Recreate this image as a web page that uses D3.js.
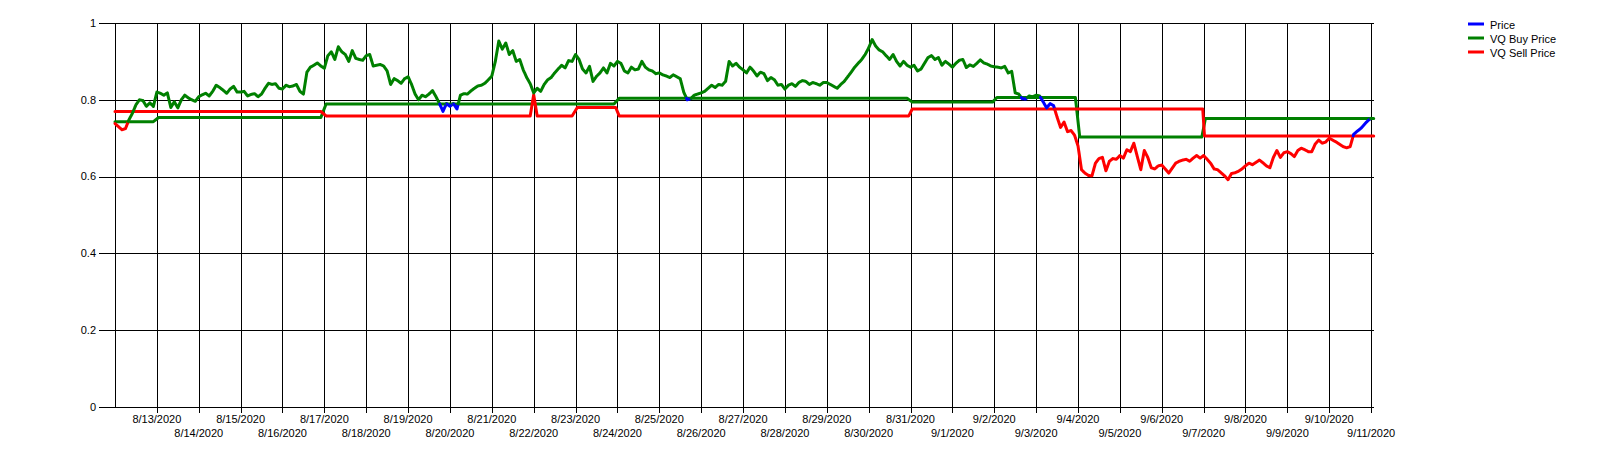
<!DOCTYPE html>
<html>
<head>
<meta charset="utf-8">
<script src="https://cdnjs.cloudflare.com/ajax/libs/d3/7.8.5/d3.min.js"></script>
<style>
  body { margin: 0; background: #fff; }
  svg text { font-family: "Liberation Sans", Arial, sans-serif; font-size: 11px; fill: #000; }
</style>
</head>
<body>
<div id="chart"></div>
<script>
// price.js
// Price with VQ buy / sell stop levels, one price point every 2 hours from 8/12/2020.

const priceStart = "2020-08-12T00:00";
const priceStepHours = 2;
const price = [
  0.738, 0.730, 0.722, 0.725, 0.748, 0.765, 0.787, 0.800, 0.798, 0.783, 0.792, 0.783,   // 8/12
  0.820, 0.817, 0.812, 0.818, 0.780, 0.795, 0.779, 0.800, 0.812, 0.805, 0.800, 0.796,   // 8/13
  0.808, 0.813, 0.817, 0.810, 0.822, 0.838, 0.832, 0.825, 0.817, 0.828, 0.835, 0.820,   // 8/14
  0.820, 0.822, 0.810, 0.814, 0.816, 0.808, 0.815, 0.830, 0.843, 0.840, 0.842, 0.830,   // 8/15
  0.828, 0.838, 0.834, 0.836, 0.840, 0.822, 0.815, 0.872, 0.885, 0.890, 0.896, 0.888,   // 8/16
  0.882, 0.915, 0.925, 0.905, 0.938, 0.925, 0.918, 0.900, 0.928, 0.908, 0.905, 0.903,   // 8/17
  0.915, 0.918, 0.888, 0.890, 0.892, 0.888, 0.875, 0.840, 0.855, 0.850, 0.843, 0.855,   // 8/18
  0.860, 0.840, 0.815, 0.800, 0.812, 0.808, 0.815, 0.824, 0.808, 0.790, 0.770, 0.790,   // 8/19
  0.783, 0.790, 0.776, 0.812, 0.816, 0.815, 0.823, 0.830, 0.836, 0.838, 0.843, 0.852,   // 8/20
  0.862, 0.900, 0.953, 0.932, 0.948, 0.918, 0.928, 0.900, 0.905, 0.878, 0.858, 0.842,   // 8/21
  0.818, 0.830, 0.822, 0.840, 0.852, 0.858, 0.870, 0.880, 0.890, 0.883, 0.902, 0.900,   // 8/22
  0.918, 0.905, 0.880, 0.870, 0.887, 0.848, 0.861, 0.870, 0.883, 0.870, 0.895, 0.888,   // 8/23
  0.900, 0.895, 0.875, 0.870, 0.885, 0.878, 0.880, 0.900, 0.885, 0.878, 0.875, 0.868,   // 8/24
  0.870, 0.865, 0.862, 0.858, 0.865, 0.860, 0.855, 0.820, 0.800, 0.803, 0.812, 0.815,   // 8/25
  0.818, 0.822, 0.830, 0.838, 0.832, 0.840, 0.838, 0.848, 0.900, 0.888, 0.895, 0.885,   // 8/26
  0.878, 0.870, 0.885, 0.875, 0.862, 0.872, 0.868, 0.850, 0.858, 0.852, 0.838, 0.840,   // 8/27
  0.828, 0.838, 0.842, 0.835, 0.845, 0.850, 0.848, 0.840, 0.845, 0.842, 0.838, 0.845,   // 8/28
  0.845, 0.840, 0.835, 0.830, 0.840, 0.848, 0.860, 0.872, 0.885, 0.895, 0.905, 0.918,   // 8/29
  0.935, 0.957, 0.940, 0.930, 0.925, 0.915, 0.905, 0.918, 0.900, 0.888, 0.900, 0.890,   // 8/30
  0.885, 0.890, 0.875, 0.880, 0.895, 0.910, 0.915, 0.905, 0.910, 0.890, 0.900, 0.893,   // 8/31
  0.885, 0.895, 0.903, 0.905, 0.884, 0.891, 0.887, 0.895, 0.904, 0.896, 0.893, 0.888,   // 9/1
  0.886, 0.885, 0.883, 0.887, 0.870, 0.874, 0.818, 0.815, 0.803, 0.802, 0.810, 0.808,   // 9/2
  0.812, 0.810, 0.795, 0.779, 0.790, 0.785, 0.755, 0.728, 0.742, 0.717, 0.720, 0.708,   // 9/3
  0.680, 0.618, 0.609, 0.603, 0.602, 0.635, 0.647, 0.650, 0.615, 0.640, 0.647, 0.645,   // 9/4
  0.655, 0.648, 0.670, 0.665, 0.687, 0.652, 0.618, 0.668, 0.650, 0.623, 0.620, 0.628,   // 9/5
  0.630, 0.620, 0.609, 0.622, 0.635, 0.640, 0.643, 0.645, 0.640, 0.648, 0.655, 0.648,   // 9/6
  0.655, 0.645, 0.635, 0.620, 0.618, 0.610, 0.602, 0.592, 0.608, 0.610, 0.614, 0.620,   // 9/7
  0.628, 0.635, 0.631, 0.637, 0.643, 0.636, 0.628, 0.623, 0.650, 0.668, 0.650, 0.662,   // 9/8
  0.665, 0.660, 0.652, 0.668, 0.674, 0.670, 0.665, 0.665, 0.685, 0.695, 0.687, 0.690,   // 9/9
  0.700, 0.695, 0.690, 0.684, 0.678, 0.675, 0.678, 0.710, 0.718, 0.725, 0.735, 0.745,   // 9/10
  0.752                                                                                   // 9/11
];

// VQ buy level (step line)
const buyTimes = [
  "2020-08-12T00:00", "2020-08-12T22:00", "2020-08-13T01:00",
  "2020-08-16T22:00", "2020-08-17T01:00",
  "2020-08-23T22:00", "2020-08-24T01:00",
  "2020-08-30T22:00", "2020-08-31T01:00",
  "2020-09-01T23:00", "2020-09-02T01:30",
  "2020-09-03T22:30", "2020-09-04T01:00",
  "2020-09-06T23:00", "2020-09-07T01:00",
  "2020-09-11T01:30"
];
const buyValues = [
  0.743, 0.743, 0.754,
  0.754, 0.789,
  0.789, 0.804,
  0.804, 0.794,
  0.794, 0.806,
  0.806, 0.703,
  0.703, 0.751,
  0.751
];

// VQ sell level (step line)
const sellTimes = [
  "2020-08-12T00:00", "2020-08-16T22:00", "2020-08-17T01:00",
  "2020-08-21T22:00", "2020-08-22T00:00", "2020-08-22T02:00",
  "2020-08-22T22:00", "2020-08-23T01:00",
  "2020-08-23T23:00", "2020-08-24T01:00",
  "2020-08-30T23:00", "2020-08-31T01:00",
  "2020-09-06T23:30", "2020-09-07T00:30",
  "2020-09-11T01:30"
];
const sellValues = [
  0.7695, 0.7695, 0.758,
  0.758, 0.813, 0.758,
  0.758, 0.780,
  0.780, 0.758,
  0.758, 0.776,
  0.776, 0.706,
  0.706
];

const xTickLabels = [
  "8/13/2020", "8/14/2020", "8/15/2020", "8/16/2020", "8/17/2020", "8/18/2020",
  "8/19/2020", "8/20/2020", "8/21/2020", "8/22/2020", "8/23/2020", "8/24/2020",
  "8/25/2020", "8/26/2020", "8/27/2020", "8/28/2020", "8/29/2020", "8/30/2020",
  "8/31/2020", "9/1/2020", "9/2/2020", "9/3/2020", "9/4/2020", "9/5/2020",
  "9/6/2020", "9/7/2020", "9/8/2020", "9/9/2020", "9/10/2020", "9/11/2020"
];
const yTicks = [0, 0.2, 0.4, 0.6, 0.8, 1];
const yTickLabels = ["0", "0.2", "0.4", "0.6", "0.8", "1"];

const seriesNames = ["Price", "VQ Buy Price", "VQ Sell Price"];
const seriesColors = ["#0000ff", "#008000", "#ff0000"];

// layout
const W = 1620, H = 460;
const plot = { left: 115, right: 1374, top: 23, bottom: 407 };

const parse = d3.utcParse("%Y-%m-%dT%H:%M");
const parseLabel = d3.utcParse("%m/%d/%Y");
const t0 = parse(priceStart);

const svg = d3.select("#chart").append("svg")
  .attr("width", W).attr("height", H);

const x = d3.scaleUtc()
  .domain([t0, parse("2020-09-11T01:40")])
  .range([plot.left, plot.right]);

const y = d3.scaleLinear()
  .domain([0, 1])
  .range([plot.bottom, plot.top]);

const px = v => Math.round(v) + 0.5;

// horizontal grid + y ticks (tick sticks out 16px to the left)
const grid = svg.append("g").attr("shape-rendering", "crispEdges")
  .attr("stroke", "#000").attr("stroke-width", 1);

yTicks.forEach(v => {
  grid.append("line")
    .attr("x1", plot.left - 16).attr("x2", plot.right)
    .attr("y1", px(y(v))).attr("y2", px(y(v)));
});

// vertical grid + x ticks
const tickDates = xTickLabels.map(s => parseLabel(s));
tickDates.forEach(d => {
  grid.append("line")
    .attr("x1", px(x(d))).attr("x2", px(x(d)))
    .attr("y1", px(y(1))).attr("y2", px(y(0)) + 5);
});

// y axis line
grid.append("line")
  .attr("x1", px(plot.left)).attr("x2", px(plot.left))
  .attr("y1", px(y(1))).attr("y2", px(y(0)));

// y labels
svg.append("g").selectAll("text")
  .data(yTicks)
  .enter().append("text")
  .attr("x", 96)
  .attr("y", d => y(d))
  .attr("dy", "0.35em")
  .attr("text-anchor", "end")
  .text((d, i) => yTickLabels[i]);

// x labels in two staggered rows
svg.append("g").selectAll("text")
  .data(tickDates)
  .enter().append("text")
  .attr("x", d => x(d))
  .attr("y", (d, i) => i % 2 === 0 ? 419 : 433)
  .attr("dy", "0.35em")
  .attr("text-anchor", "middle")
  .text((d, i) => xTickLabels[i]);

// series data
const pricePts = price.map((v, i) => ({ t: d3.utcHour.offset(t0, i * priceStepHours), v }));
const buyPts = buyTimes.map((s, i) => ({ t: parse(s), v: buyValues[i] }));
const sellPts = sellTimes.map((s, i) => ({ t: parse(s), v: sellValues[i] }));

const buyAt = d3.scaleUtc().domain(buyPts.map(d => d.t)).range(buyValues).clamp(true);
const sellAt = d3.scaleUtc().domain(sellPts.map(d => d.t)).range(sellValues).clamp(true);

const line = d3.line()
  .x(d => x(d.t))
  .y(d => y(d.v));

const lines = svg.append("g")
  .attr("fill", "none")
  .attr("stroke-width", 3)
  .attr("stroke-linejoin", "round")
  .attr("stroke-linecap", "round");

lines.append("path").datum(buyPts).attr("stroke", seriesColors[1]).attr("d", line);
lines.append("path").datum(sellPts).attr("stroke", seriesColors[2]).attr("d", line);

// price coloured by where it sits against the buy / sell levels
function zone(p) {
  if (p.v >= buyAt(p.t)) return 1;
  if (p.v <= sellAt(p.t)) return 2;
  return 0;
}

const runs = [];
let cur = null;
const SUB = 16;
for (let i = 0; i < pricePts.length - 1; i++) {
  const a = pricePts[i], b = pricePts[i + 1];
  for (let k = 0; k < SUB; k++) {
    const f0 = k / SUB, f1 = (k + 1) / SUB;
    const p0 = { t: new Date(+a.t + (b.t - a.t) * f0), v: a.v + (b.v - a.v) * f0 };
    const p1 = { t: new Date(+a.t + (b.t - a.t) * f1), v: a.v + (b.v - a.v) * f1 };
    const mid = { t: new Date((+p0.t + +p1.t) / 2), v: (p0.v + p1.v) / 2 };
    const z = zone(mid);
    if (!cur || cur.z !== z) {
      cur = { z, pts: [p0] };
      runs.push(cur);
    }
    cur.pts.push(p1);
  }
}

lines.selectAll(".price-run")
  .data(runs)
  .enter().append("path")
  .attr("class", "price-run")
  .attr("stroke", d => seriesColors[d.z])
  .attr("d", d => line(d.pts));

// legend
const legend = svg.append("g");
seriesNames.forEach((name, i) => {
  const ly = 24 + i * 14;
  legend.append("line")
    .attr("x1", 1468).attr("x2", 1484)
    .attr("y1", ly).attr("y2", ly)
    .attr("stroke", seriesColors[i]).attr("stroke-width", 3);
  legend.append("text")
    .attr("x", 1490).attr("y", ly + 1)
    .attr("dy", "0.35em")
    .text(name);
});
</script>
</body>
</html>
